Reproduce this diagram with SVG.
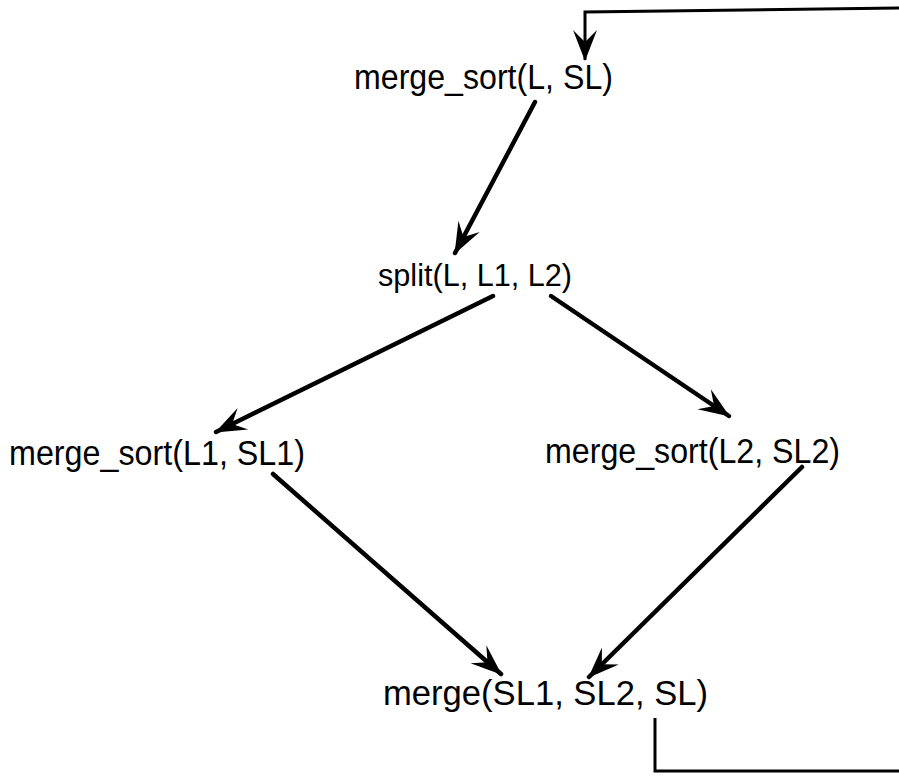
<svg xmlns="http://www.w3.org/2000/svg" width="899" height="779" viewBox="0 0 899 779">
  <style>
    .label { font-family: "Liberation Sans", Arial, Helvetica, sans-serif; font-size: 35px; fill: #000; }
    .edge { fill: none; stroke: #000; stroke-width: 4.5; stroke-linecap: round; }
    .loop { fill: none; stroke: #000; stroke-width: 3; }
  </style>
  <defs>
    <!-- barbed arrowhead shared by every connector -->
    <marker id="head" markerUnits="userSpaceOnUse" viewBox="-32 -14 34 28" refX="0" refY="0" markerWidth="34" markerHeight="28" orient="auto">
      <path d="M1,0 L-30,-12 L-18,0 L-30,12 Z" fill="#000"/>
    </marker>
  </defs>
  <rect width="899" height="779" fill="#fff"/>

  <g id="n-merge-sort">
    <text class="label" x="354" y="89" textLength="259" lengthAdjust="spacingAndGlyphs">merge_sort(L, SL)</text>
  </g>
  <g id="n-split">
    <text class="label" x="378" y="286" style="font-size:32px" textLength="194" lengthAdjust="spacingAndGlyphs">split(L, L1, L2)</text>
  </g>
  <g id="n-merge-sort-1">
    <text class="label" x="9" y="465" textLength="296" lengthAdjust="spacingAndGlyphs">merge_sort(L1, SL1)</text>
  </g>
  <g id="n-merge-sort-2">
    <text class="label" x="545" y="463" textLength="295" lengthAdjust="spacingAndGlyphs">merge_sort(L2, SL2)</text>
  </g>
  <g id="n-merge">
    <text class="label" x="383" y="705" textLength="325" lengthAdjust="spacingAndGlyphs">merge(SL1, SL2, SL)</text>
  </g>

  <g id="connectors">
    <line class="edge" x1="535" y1="102" x2="455" y2="253" marker-end="url(#head)"/>
    <line class="edge" x1="493" y1="296" x2="216" y2="432" marker-end="url(#head)"/>
    <line class="edge" x1="551" y1="296" x2="729" y2="416" marker-end="url(#head)"/>
    <line class="edge" x1="273" y1="474" x2="501" y2="674" marker-end="url(#head)"/>
    <line class="edge" x1="802" y1="467" x2="589" y2="677" marker-end="url(#head)"/>
    <!-- recursion loop: from the result back round to the top call -->
    <path class="loop" d="M655,718 L655,771 L903,771"/>
    <path class="loop" d="M903,8 L585,12 L585,60" marker-end="url(#head)"/>
  </g>
</svg>
